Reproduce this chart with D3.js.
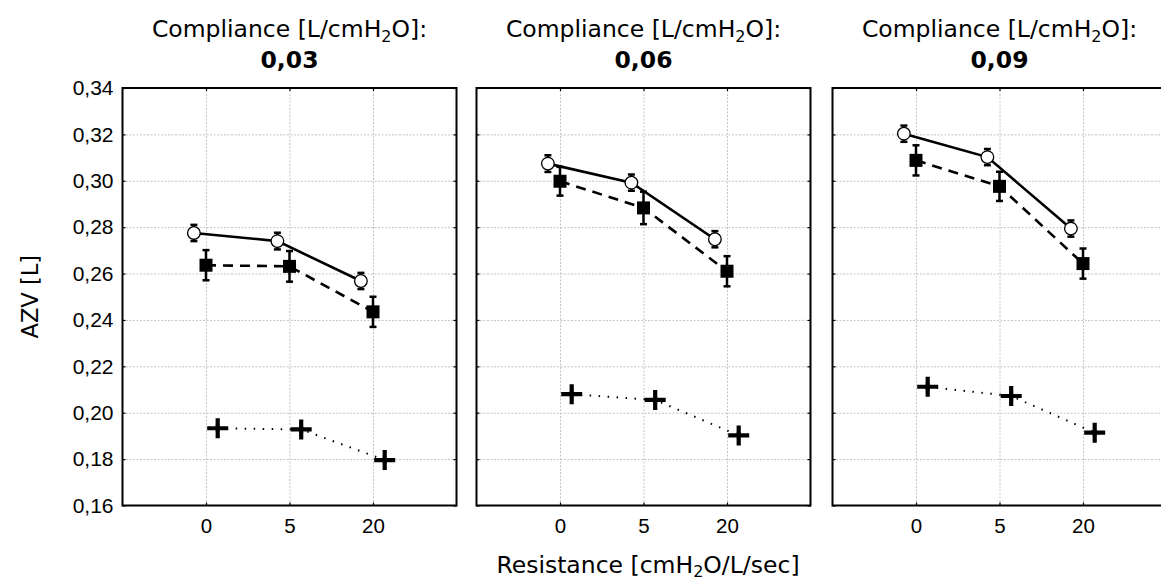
<!DOCTYPE html>
<html>
<head>
<meta charset="utf-8">
<script src="https://cdn.jsdelivr.net/npm/d3@7"></script>
<style>
  body { margin: 0; background: #fff; }
  text { fill: #000; }
</style>
</head>
<body>
<svg id="chart" width="1161" height="583"></svg>
<script>
// compliance panels and resistance categories
const compliances = ["0,03", "0,06", "0,09"];
const resistances = ["0", "5", "20"];
const yTicks = [0.16, 0.18, 0.20, 0.22, 0.24, 0.26, 0.28, 0.30, 0.32, 0.34];

// open circles (solid line)
const circleMean = [[0.2775, 0.2740, 0.2568], [0.3074, 0.2992, 0.2748], [0.3203, 0.3102, 0.2794]];
const circleErr = [[0.0035, 0.0036, 0.0035], [0.0036, 0.0035, 0.0035], [0.0035, 0.0035, 0.0035]];
// filled squares (dashed line)
const squareMean = [[0.2636, 0.2631, 0.2435], [0.2998, 0.2883, 0.2610], [0.3088, 0.2976, 0.2643]];
const squareErr = [[0.0065, 0.0066, 0.0065], [0.0062, 0.0070, 0.0065], [0.0065, 0.0063, 0.0065]];
// crosses (dotted line)
const crossMean = [[0.1933, 0.1928, 0.1796], [0.2080, 0.2055, 0.1902], [0.2112, 0.2072, 0.1914]];
const crossErr = [[0.0012, 0.0012, 0.0012], [0.0012, 0.0012, 0.0012], [0.0012, 0.0012, 0.0012]];

const svg = d3.select("#chart");

const panelLeft = [122.5, 476.5, 832.5];
const panelW = 334;
const plotTop = 88, plotBottom = 505.5;

const y = d3.scaleLinear().domain([0.16, 0.34]).range([plotBottom, plotTop]);
const fmt = d => d3.format(".2f")(d).replace(".", ",");

const series = [
  {mean: circleMean, err: circleErr, off: -0.145, kind: "circle", dash: null, width: 2.6},
  {mean: squareMean, err: squareErr, off: 0, kind: "square", dash: "10,7", width: 2.6},
  {mean: crossMean, err: crossErr, off: 0.14, kind: "cross", dash: "1.5,7.5", width: 2}
];

compliances.forEach((comp, p) => {
  const x0 = panelLeft[p];
  const x = d3.scaleLinear().domain([-1, 3]).range([x0, x0 + panelW]);
  const g = svg.append("g");

  // grid
  g.append("g")
    .attr("transform", `translate(${x0},0)`)
    .call(d3.axisLeft(y).tickValues(yTicks.slice(1, -1)).tickSize(-panelW).tickFormat(""))
    .call(a => a.select(".domain").remove())
    .selectAll("line").attr("stroke", "#c4c4c4").attr("stroke-dasharray", "2,1.5");
  g.append("g")
    .attr("transform", `translate(0,${plotBottom})`)
    .call(d3.axisBottom(x).tickValues([0, 1, 2]).tickSize(-(plotBottom - plotTop)).tickFormat(""))
    .call(a => a.select(".domain").remove())
    .selectAll("line").attr("stroke", "#c4c4c4").attr("stroke-dasharray", "2,1.5");

  // lines between means
  series.forEach(s => {
    const line = d3.line().x((d, i) => x(i + s.off)).y(d => y(d));
    g.append("path")
      .attr("d", line(s.mean[p]))
      .attr("fill", "none")
      .attr("stroke", "#000")
      .attr("stroke-width", s.width)
      .attr("stroke-dasharray", s.dash);
  });

  // error bars and markers
  series.forEach(s => {
    s.mean[p].forEach((m, i) => {
      const cx = x(i + s.off);
      const e = s.err[p][i];
      const cap = s.kind === "cross" ? 2 : 3.5;
      const eb = g.append("g").attr("stroke", "#000").attr("stroke-width", s.kind === "cross" ? 1 : 2.5);
      eb.append("line").attr("x1", cx).attr("x2", cx).attr("y1", y(m - e)).attr("y2", y(m + e));
      eb.append("line").attr("x1", cx - cap).attr("x2", cx + cap).attr("y1", y(m - e)).attr("y2", y(m - e));
      eb.append("line").attr("x1", cx - cap).attr("x2", cx + cap).attr("y1", y(m + e)).attr("y2", y(m + e));

      if (s.kind === "circle") {
        g.append("circle").attr("cx", cx).attr("cy", y(m)).attr("r", 6.3)
          .attr("fill", "#fff").attr("stroke", "#000").attr("stroke-width", 1.3);
      } else if (s.kind === "square") {
        g.append("rect").attr("x", cx - 6.5).attr("y", y(m) - 6.5).attr("width", 13).attr("height", 13)
          .attr("fill", "#000");
      } else {
        const pth = d3.path();
        pth.moveTo(cx - 10.5, y(m)); pth.lineTo(cx + 10.5, y(m));
        pth.moveTo(cx, y(m) - 10); pth.lineTo(cx, y(m) + 10);
        g.append("path").attr("d", pth.toString()).attr("stroke", "#000").attr("stroke-width", 4.2);
      }
    });
  });

  // inward ticks on all four sides
  const tk = (sel) => sel.call(a => a.select(".domain").remove()).selectAll("line").attr("stroke", "#000").attr("stroke-width", 1.2);
  g.append("g").attr("transform", `translate(${x0},0)`).call(d3.axisRight(y).tickValues(yTicks).tickSize(3).tickFormat("")).call(tk);
  g.append("g").attr("transform", `translate(${x0 + panelW},0)`).call(d3.axisLeft(y).tickValues(yTicks).tickSize(3).tickFormat("")).call(tk);
  g.append("g").attr("transform", `translate(0,${plotBottom})`).call(d3.axisTop(x).tickValues([0, 1, 2]).tickSize(3).tickFormat("")).call(tk);
  g.append("g").attr("transform", `translate(0,${plotTop})`).call(d3.axisBottom(x).tickValues([0, 1, 2]).tickSize(3).tickFormat("")).call(tk);

  // frame
  g.append("rect").attr("x", x0).attr("y", plotTop).attr("width", panelW).attr("height", plotBottom - plotTop)
    .attr("fill", "none").attr("stroke", "#000").attr("stroke-width", 2);

  // x tick labels
  const xl = g.append("g").attr("transform", `translate(0,${plotBottom})`)
    .call(d3.axisBottom(x).tickValues([0, 1, 2]).tickSize(0).tickPadding(13).tickFormat(i => resistances[i]));
  xl.select(".domain").remove();
  xl.selectAll("text").attr("font-family", "Liberation Sans, Arial, sans-serif").attr("font-size", 20.5);

  // panel title
  const cx = x0 + panelW / 2;
  const t = g.append("text").attr("x", cx).attr("y", 37).attr("text-anchor", "middle")
    .attr("font-family", "DejaVu Sans, sans-serif").attr("font-size", 23.5);
  t.append("tspan").text("Compliance [L/cmH");
  t.append("tspan").attr("font-size", 16).attr("dy", 5).text("2");
  t.append("tspan").attr("dy", -5).text("O]:");
  g.append("text").attr("x", cx).attr("y", 68).attr("text-anchor", "middle")
    .attr("font-family", "DejaVu Sans, sans-serif").attr("font-size", 23.5).attr("font-weight", "bold")
    .text(comp);

  // y labels on first panel only
  if (p === 0) {
    const yl = g.append("g").attr("transform", `translate(${x0},0)`)
      .call(d3.axisLeft(y).tickValues(yTicks).tickSize(0).tickPadding(9).tickFormat(fmt));
    yl.select(".domain").remove();
    yl.selectAll("text").attr("font-family", "Liberation Sans, Arial, sans-serif").attr("font-size", 21);
  }
});

// axis titles
svg.append("text")
  .attr("transform", `translate(38,${(plotTop + plotBottom) / 2}) rotate(-90)`)
  .attr("text-anchor", "middle")
  .attr("font-family", "DejaVu Sans, sans-serif").attr("font-size", 22.5)
  .text("AZV [L]");

const xt = svg.append("text").attr("x", 648).attr("y", 573).attr("text-anchor", "middle")
  .attr("font-family", "DejaVu Sans, sans-serif").attr("font-size", 23.5);
xt.append("tspan").text("Resistance [cmH");
xt.append("tspan").attr("font-size", 16).attr("dy", 4).text("2");
xt.append("tspan").attr("dy", -4).text("O/L/sec]");
</script>
</body>
</html>
